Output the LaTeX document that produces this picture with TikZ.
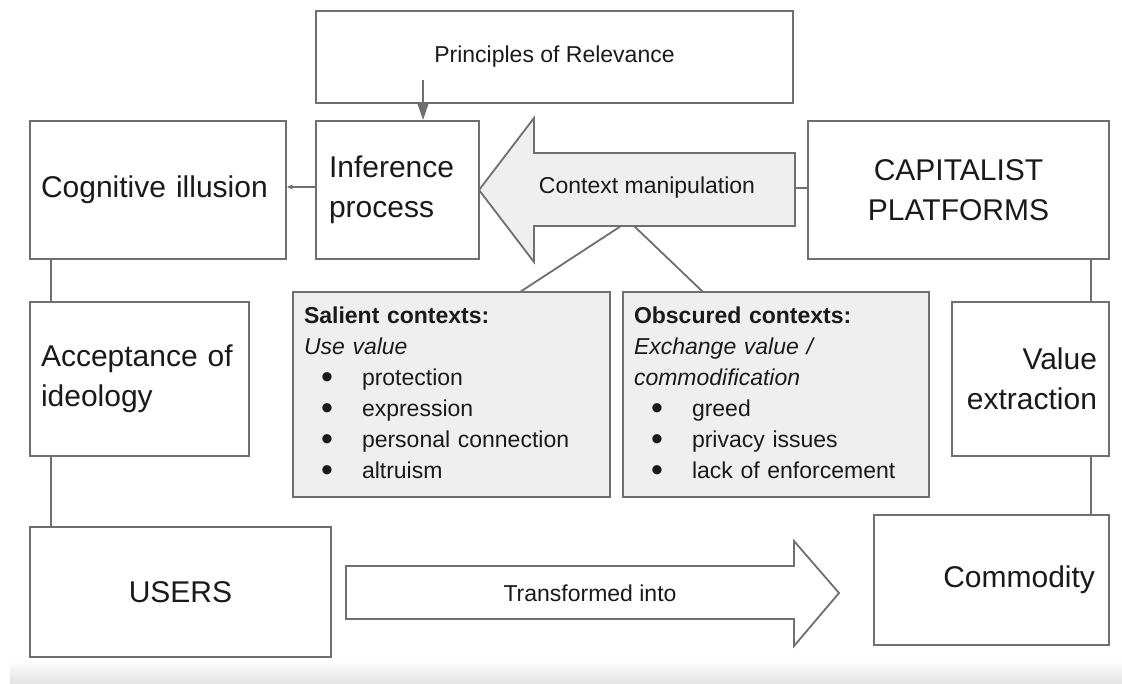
\documentclass[tikz,border=0pt]{standalone}
\usepackage{fontspec}
\setmainfont{Liberation Sans}
\usetikzlibrary{arrows.meta}
\definecolor{bord}{HTML}{6F6F6F}
\definecolor{lgray}{HTML}{EFEFEF}
\definecolor{txt}{HTML}{1A1A1A}
\newcommand\bigf{\fontsize{30}{39.5}\selectfont}
\newcommand\smallf{\fontsize{23}{31}\selectfont}
\newcommand\bitem[1]{\makebox[58pt][l]{\hspace*{17pt}\raisebox{-3pt}{\fontsize{34}{31}\selectfont•}}#1}
\begin{document}
\begin{tikzpicture}[x=1pt,y=-1pt,
  box/.style={draw=bord, line width=1.8pt, fill=white, inner ysep=0pt, text=txt, font=\bigf},
  conn/.style={draw=bord, line width=1.8pt},
  blockarrow/.style={draw=bord, line width=1.8pt, line join=miter}]
\fill[white] (0,0) rectangle (1122,684);
\useasboundingbox (0,0) rectangle (1122,684);
\shade[top color=white, bottom color=gray!22] (10,660) rectangle (1122,684);

% boxes
\node[box, minimum width=477pt, minimum height=92pt, font=\smallf] (prin) at (554.5,57) {Principles of Relevance};
\node[box, inner xsep=11pt, text width=234pt, minimum height=138pt, align=left] (cog) at (158,190) {Cognitive illusion};
\node[box, inner xsep=13pt, text width=137pt, minimum height=138pt, align=left] (inf) at (397.5,190) {Inference\\process};
\node[box, inner xsep=10pt, text width=281pt, minimum height=138pt, align=center] (cap) at (958.5,190) {CAPITALIST\\PLATFORMS};
\node[box, inner xsep=11pt, text width=197pt, minimum height=154pt, align=left] (acc) at (139.5,379) {Acceptance of\\ideology};
\node[box, inner xsep=12pt, text width=133pt, minimum height=154pt, align=right] (val) at (1030.5,379) {Value\\extraction};
\node[box, inner xsep=10pt, text width=281pt, minimum height=130pt, align=center] (users) at (180.5,592) {USERS};
\node[box, inner xsep=14pt, text width=207pt, minimum height=130pt, align=right] (com) at (991.5,580) {Commodity};

\node[box, fill=lgray, font=\smallf, inner xsep=11pt, text width=295pt, minimum height=205pt, align=left] (sal) at (451.5,394.5)
  {\textbf{Salient contexts:}\\\textit{Use value}\\\bitem{protection}\\\bitem{expression}\\\bitem{personal connection}\\\bitem{altruism}};
\node[box, fill=lgray, font=\smallf, inner xsep=11pt, text width=284pt, minimum height=205pt, align=left] (obs) at (776,394.5)
  {\textbf{Obscured contexts:}\\\textit{Exchange value /}\\\textit{commodification}\\\bitem{greed}\\\bitem{privacy issues}\\\bitem{lack of enforcement}};

% context manipulation arrow
\filldraw[blockarrow, fill=lgray] (479,190) -- (534,118) -- (534,153) -- (795,153) -- (795,226) -- (534,226) -- (534,262) -- cycle;
\node[text=txt, font=\smallf] (ctx) at (647,188) {Context manipulation};
\coordinate (ctxR) at (795,188);
\coordinate (ctxB1) at (621,226);
\coordinate (ctxB2) at (634,226);
\coordinate (salT) at (520,292);
\coordinate (obsT) at (703,292);

% transformed into arrow
\filldraw[blockarrow, fill=white] (346,566) -- (794,566) -- (794,541) -- (839,593) -- (794,646) -- (794,619) -- (346,619) -- cycle;
\node[text=txt, font=\smallf] (tr) at (590,593) {Transformed into};

% connectors
\coordinate (pa) at (423,80);
\draw[conn, -{Triangle[length=17pt,width=11pt]}] (pa) -- (pa |- inf.north);
\draw[conn, line width=1.2pt, -{Stealth[length=6pt,width=5pt]}] ([yshift=3pt]inf.west) -- ([yshift=3pt]cog.east);
\draw[conn] (ctxR) -- (ctxR -| cap.west);
\draw[conn] (ctxB1) -- (salT);
\draw[conn] (ctxB2) -- (obsT);
\coordinate (xL) at (51,0);
\coordinate (xR) at (1091,0);
\draw[conn] (cog.south -| xL) -- (acc.north -| xL);
\draw[conn] (acc.south -| xL) -- (users.north -| xL);
\draw[conn] (cap.south -| xR) -- (val.north -| xR);
\draw[conn] (val.south -| xR) -- (com.north -| xR);
\end{tikzpicture}
\end{document}
